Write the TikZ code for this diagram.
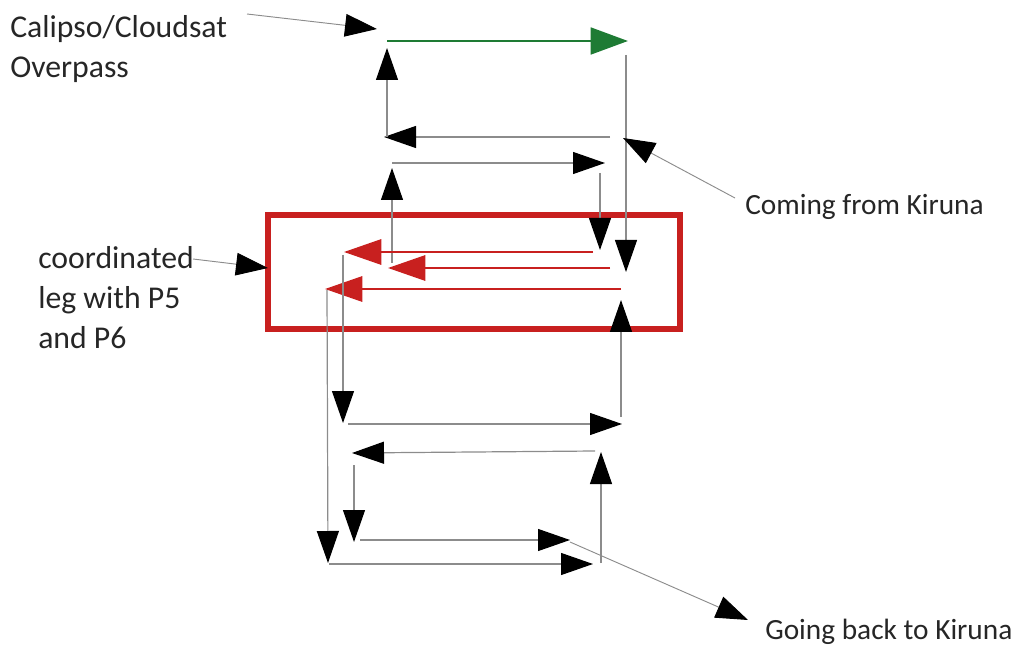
\documentclass[tikz,border=0pt]{standalone}
\usepackage{fontspec}
\setmainfont{Carlito}
\usetikzlibrary{arrows.meta}
\definecolor{trkgray}{HTML}{8C8C8C}
\definecolor{trkgreen}{HTML}{1E7B34}
\definecolor{trkred}{HTML}{C8201F}
\begin{document}
\begin{tikzpicture}[x=0.75pt,y=-0.75pt,
  trk/.style={draw=trkgray, line width=0.9pt, -{Triangle[length=24pt,width=16.5pt,color=black]}},
  grn/.style={draw=trkgreen, line width=2.2pt, -{Triangle[length=28pt,width=20pt]}},
  redleg/.style={draw=trkred, line width=1.6pt, -{Triangle[length=28pt,width=19pt]}},
  note/.style={draw=trkgray, line width=0.7pt, -{Triangle[length=24pt,width=17pt,color=black]}},
  lbl/.style={font=\fontsize{23.8}{30}\selectfont, inner sep=0pt, anchor=west, align=left, text=black!85},
  lblr/.style={lbl, font=\fontsize{22}{30}\selectfont}
]
\useasboundingbox (0,0) rectangle (1014,645);

% coordinates of the track
\coordinate (g1) at (387,41);  \coordinate (g2) at (628,41);
\coordinate (a1) at (626,55);  \coordinate (a2) at (626,272);
\coordinate (b1) at (610,137); \coordinate (b2) at (384,137);
\coordinate (c1) at (387,137); \coordinate (c2) at (387,48);
\coordinate (d1) at (392,163); \coordinate (d2) at (605,163);
\coordinate (e1) at (392,263); \coordinate (e2) at (392,168);
\coordinate (f1) at (600,173); \coordinate (f2) at (600,250);
\coordinate (h1) at (621,417); \coordinate (h2) at (621,300);
\coordinate (r11) at (593,252); \coordinate (r12) at (344,252);
\coordinate (r21) at (610,268); \coordinate (r22) at (388,268);
\coordinate (r31) at (621,289); \coordinate (r32) at (325,289);
\coordinate (i1) at (343,255); \coordinate (i2) at (343,423);
\coordinate (j1) at (348,424); \coordinate (j2) at (622,424);
\coordinate (k1) at (595,451); \coordinate (k2) at (352,453);
\coordinate (l1) at (601,563); \coordinate (l2) at (601,452);
\coordinate (m1) at (354,465); \coordinate (m2) at (354,542);
\coordinate (n1) at (360,540); \coordinate (n2) at (570,540);
\coordinate (o1) at (327,290); \coordinate (o2) at (328,563);
\coordinate (p1) at (329,564); \coordinate (p2) at (593,564);

% red box
\node[draw=trkred, line width=3.8pt, minimum width=412*0.75pt, minimum height=114*0.75pt, inner sep=0pt] (box) at (474,272) {};

% track legs
\draw[grn] (g1) -- (g2);
\draw[trk] (a1) -- (a2);
\draw[trk] (b1) -- (b2);
\draw[trk] (c1) -- (c2);
\draw[trk] (d1) -- (d2);
\draw[trk] (e1) -- (e2);
\draw[trk] (f1) -- (f2);
\draw[trk] (h1) -- (h2);
\draw[redleg] (r11) -- (r12);
\draw[redleg] (r21) -- (r22);
\draw[redleg] (r31) -- (r32);
\draw[trk] (i1) -- (i2);
\draw[trk] (j1) -- (j2);
\draw[trk] (k1) -- (k2);
\draw[trk] (l1) -- (l2);
\draw[trk] (m1) -- (m2);
\draw[trk] (n1) -- (n2);
\draw[trk] (o1) -- (o2);
\draw[trk] (p1) -- (p2);

% labels
\node[lbl] (calipso) at (10,49) {Calipso/Cloudsat\\Overpass};
\node[lbl] (coord) at (38,298) {coordinated\\leg with P5\\and P6};
\node[lblr] (coming) at (745,207) {Coming from Kiruna};
\node[lblr] (going) at (765,632) {Going back to Kiruna};

% annotation arrows
\coordinate (ca) at (247,14);  \coordinate (cb) at (377,29);
\coordinate (ka) at (735,198); \coordinate (kb) at (623,138);
\coordinate (pa) at (193,259); \coordinate (pb) at (268,268);
\coordinate (ga) at (570,542); \coordinate (gb) at (748,620);
\draw[note] (ca) -- (cb);
\draw[note] (ka) -- (kb);
\draw[note] (pa) -- (pb);
\draw[note] (ga) -- (gb);
\end{tikzpicture}
\end{document}
